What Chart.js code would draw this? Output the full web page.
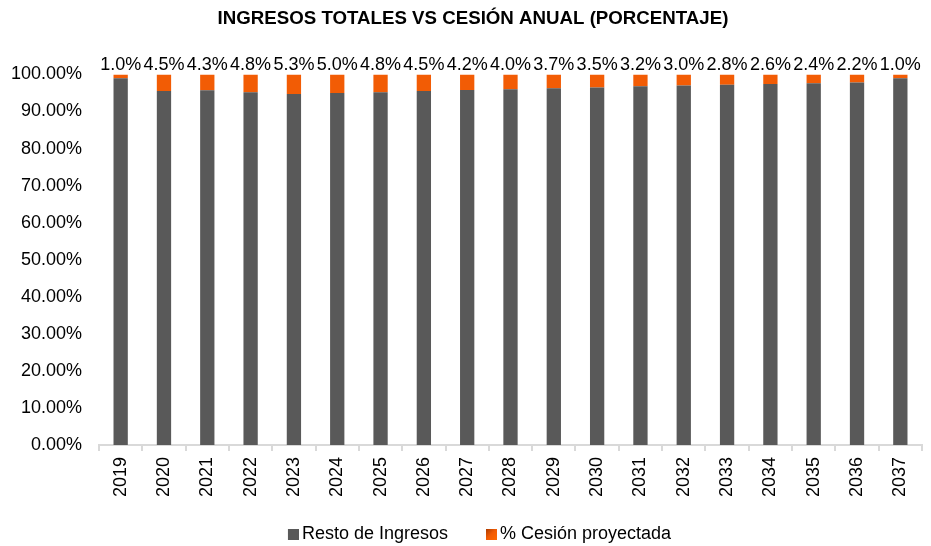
<!DOCTYPE html>
<html>
<head>
<meta charset="utf-8">
<script src="https://cdn.jsdelivr.net/npm/chart.js@4/dist/chart.umd.min.js"></script>
<style>
  html, body { margin: 0; padding: 0; background: #fff; }
  #wrap { width: 931px; height: 546px; }
</style>
</head>
<body>
<div id="wrap"><canvas id="chart" width="931" height="546"></canvas></div>
<script>
const years = ['2019', '2020', '2021', '2022', '2023', '2024', '2025', '2026', '2027', '2028',
  '2029', '2030', '2031', '2032', '2033', '2034', '2035', '2036', '2037'];
// % cesión proyectada
const cesion = [1.0, 4.5, 4.3, 4.8, 5.3, 5.0, 4.8, 4.5, 4.2, 4.0, 3.7, 3.5, 3.2, 3.0, 2.8, 2.6, 2.4, 2.2, 1.0];
// resto de ingresos = 100 - cesión
const resto = cesion.map(c => 100 - c);

const FONT = "'Liberation Sans', Arial, sans-serif";
const GREY = '#595959';

function addOrangeStops(g) {
  g.addColorStop(0, '#A83A00');
  g.addColorStop(0.5, '#F25C05');
  g.addColorStop(1, '#FF6A00');
  return g;
}

// gradiente naranja del segmento de cesión
function orangeFill(ctx) {
  const el = ctx.element;
  const c = ctx.chart.ctx;
  if (!el || el.x === undefined || isNaN(el.y)) return '#F25C05';
  const w = el.width || 14;
  const top = Math.min(el.y, el.base), bot = Math.max(el.y, el.base);
  return addOrangeStops(c.createLinearGradient(el.x - w / 2, top, el.x + w / 2, bot));
}

// marcador de leyenda: cuadrado al final de un lienzo ancho (deja hueco a la izquierda)
const MARK_W = 42;
function legendMark(fill) {
  const cv = document.createElement('canvas');
  cv.width = MARK_W + 12;
  cv.height = 11;
  const c = cv.getContext('2d');
  const x0 = cv.width - 11;
  if (fill === 'orange') {
    c.fillStyle = addOrangeStops(c.createLinearGradient(x0, 0, x0 + 11, 11));
  } else {
    c.fillStyle = fill;
  }
  c.fillRect(x0, 0, 11, 11);
  return cv;
}
const marks = [legendMark(GREY), legendMark('orange')];

const labelPlugin = {
  id: 'topLabels',
  afterLayout(chart) {
    // el título del original está algo desplazado a la derecha
    if (chart.titleBlock) chart.titleBlock.left += 24;
  },
  afterDatasetsDraw(chart) {
    const ctx = chart.ctx;
    const meta = chart.getDatasetMeta(1);
    ctx.save();
    ctx.font = '18px ' + FONT;
    ctx.fillStyle = '#000';
    ctx.textAlign = 'center';
    ctx.textBaseline = 'alphabetic';
    meta.data.forEach((bar, i) => {
      ctx.fillText(cesion[i].toFixed(1) + '%', bar.x, bar.y - 4);
    });
    ctx.restore();
  }
};

new Chart(document.getElementById('chart'), {
  type: 'bar',
  data: {
    labels: years,
    datasets: [
      {
        label: 'Resto de Ingresos',
        data: resto,
        backgroundColor: GREY,
        barPercentage: 0.33,
        categoryPercentage: 1.0
      },
      {
        label: '% Cesión proyectada',
        data: cesion,
        backgroundColor: orangeFill,
        barPercentage: 0.33,
        categoryPercentage: 1.0
      }
    ]
  },
  options: {
    responsive: false,
    animation: false,
    layout: { padding: { left: 0, right: 9, top: 0, bottom: -7 } },
    plugins: {
      title: {
        display: true,
        text: 'INGRESOS TOTALES VS CESIÓN ANUAL (PORCENTAJE)',
        font: { family: FONT, size: 18.7, weight: 'bold' },
        color: '#000',
        padding: { top: 8, bottom: 44 }
      },
      legend: {
        position: 'bottom',
        labels: {
          font: { family: FONT, size: 18 },
          color: '#000',
          usePointStyle: true,
          pointStyleWidth: MARK_W,
          boxHeight: 11,
          padding: 1,
          generateLabels(chart) {
            const items = Chart.defaults.plugins.legend.labels.generateLabels(chart);
            items.forEach((it, i) => { it.pointStyle = marks[i]; });
            return items;
          }
        }
      },
      tooltip: { enabled: false }
    },
    scales: {
      x: {
        stacked: true,
        grid: {
          offset: true,
          drawOnChartArea: false,
          color: '#D9D9D9',
          lineWidth: 2,
          tickLength: 6
        },
        border: { color: '#D9D9D9', width: 2 },
        ticks: {
          font: { family: FONT, size: 18 },
          color: '#000',
          maxRotation: 90,
          minRotation: 90,
          padding: 6
        },
        afterFit(scale) { scale.height = 79; }
      },
      y: {
        stacked: true,
        min: 0,
        max: 100,
        grid: { display: false },
        border: { display: false },
        ticks: {
          stepSize: 10,
          font: { family: FONT, size: 18 },
          color: '#000',
          padding: 9,
          callback: v => v.toFixed(2) + '%'
        },
        afterFit(scale) { scale.width = 99; }
      }
    }
  },
  plugins: [labelPlugin]
});
</script>
</body>
</html>
